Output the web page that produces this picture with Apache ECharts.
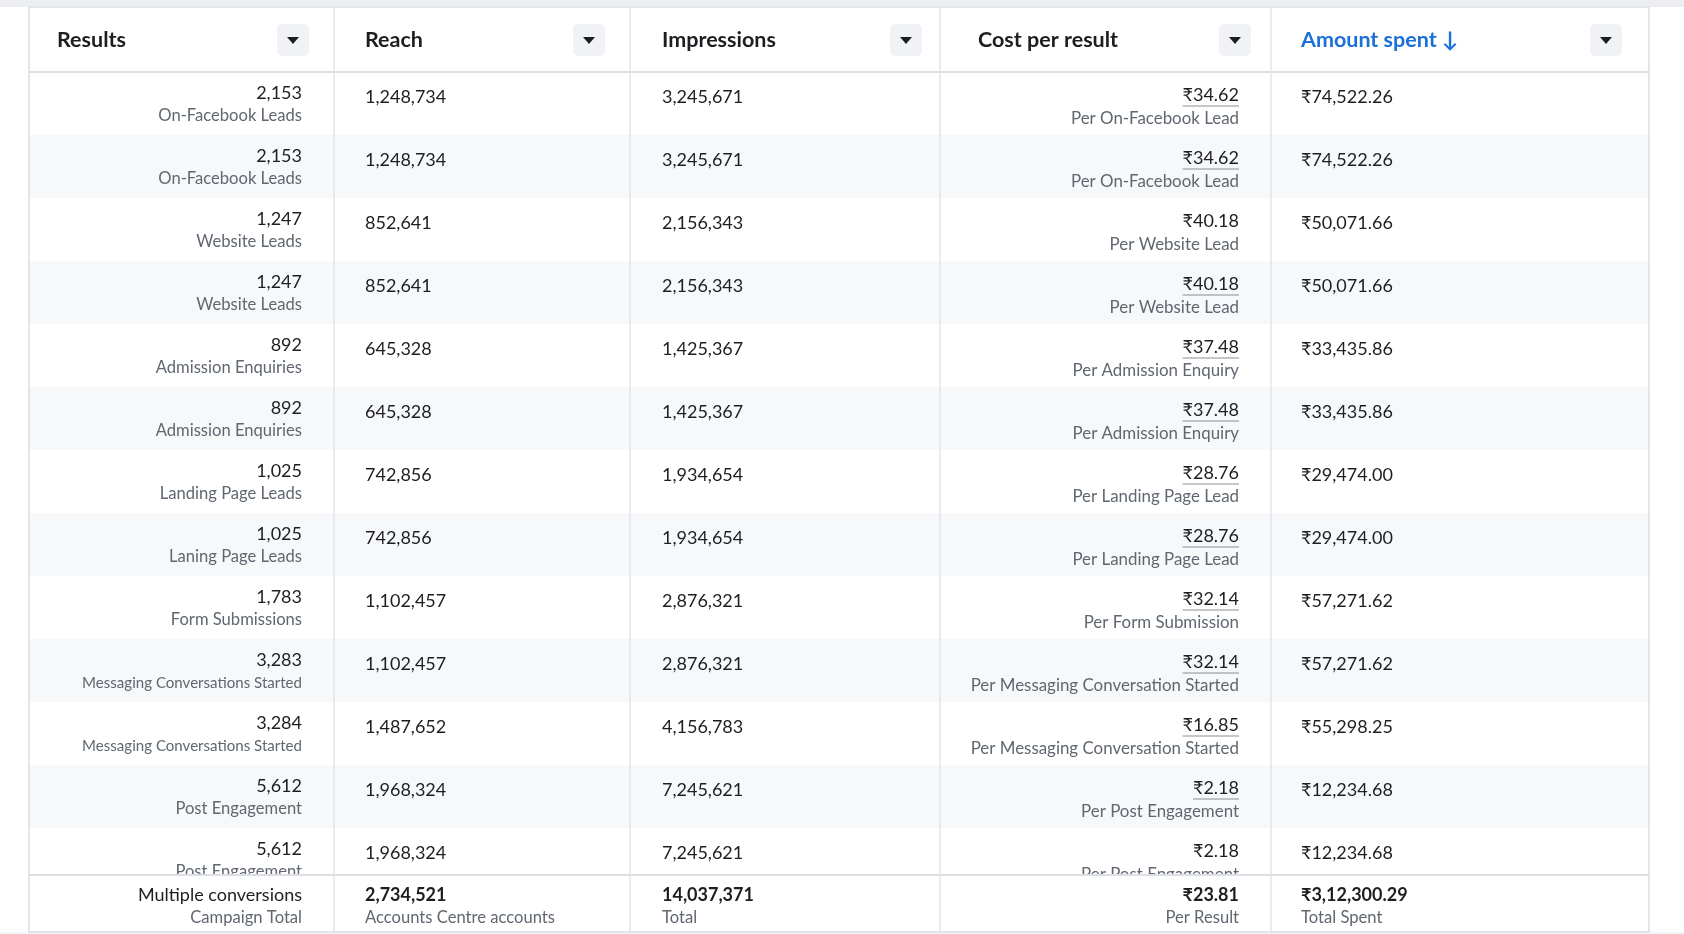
<!DOCTYPE html>
<html>
<head>
<meta charset="utf-8">
<script src="https://cdn.jsdelivr.net/npm/echarts@6/dist/echarts.min.js"></script>
<style>
  html, body { margin: 0; padding: 0; background: #fff; }
  #container { width: 1684px; height: 934px; }
</style>
</head>
<body>
<div id="container"></div>
<script>
'use strict';

// table data
var headers = ['Results', 'Reach', 'Impressions', 'Cost per result', 'Amount spent \u2193'];
var resultCounts = [2153, 2153, 1247, 1247, 892, 892, 1025, 1025, 1783, 3283, 3284, 5612, 5612];
var resultTypes = ['On-Facebook Leads', 'On-Facebook Leads', 'Website Leads', 'Website Leads',
    'Admission Enquiries', 'Admission Enquiries', 'Landing Page Leads', 'Laning Page Leads',
    'Form Submissions', 'Messaging Conversations Started', 'Messaging Conversations Started',
    'Post Engagement', 'Post Engagement'];
var reach = [1248734, 1248734, 852641, 852641, 645328, 645328, 742856, 742856,
    1102457, 1102457, 1487652, 1968324, 1968324];
var impressions = [3245671, 3245671, 2156343, 2156343, 1425367, 1425367, 1934654, 1934654,
    2876321, 2876321, 4156783, 7245621, 7245621];
var costPerResult = [34.62, 34.62, 40.18, 40.18, 37.48, 37.48, 28.76, 28.76,
    32.14, 32.14, 16.85, 2.18, 2.18];
var costLabels = ['Per On-Facebook Lead', 'Per On-Facebook Lead', 'Per Website Lead', 'Per Website Lead',
    'Per Admission Enquiry', 'Per Admission Enquiry', 'Per Landing Page Lead', 'Per Landing Page Lead',
    'Per Form Submission', 'Per Messaging Conversation Started', 'Per Messaging Conversation Started',
    'Per Post Engagement', 'Per Post Engagement'];
var costLinked = [true, true, false, true, true, true, true, true, true, true, true, true, false];
var amountSpent = [74522.26, 74522.26, 50071.66, 50071.66, 33435.86, 33435.86, 29474.00, 29474.00,
    57271.62, 57271.62, 55298.25, 12234.68, 12234.68];

// totals row
var totalResults = ['Multiple conversions', 'Campaign Total'];
var totalReach = [2734521, 'Accounts Centre accounts'];
var totalImpressions = [14037371, 'Total'];
var totalCost = [23.81, 'Per Result'];
var totalSpent = [312300.29, 'Total Spent'];

// layout (px)
var W = 1684, H = 934;
var tLeft = 29, tRight = 1649, tTop = 7, headBottom = 72, rowH = 63, footTop = 875, tBottom = 932;
var colLines = [334, 630, 940, 1271];
var headX = [57, 365, 662, 978, 1301];
var dropX = [293, 589, 906, 1235, 1606];
var FONT = 'Lato, "Noto Sans", "DejaVu Sans", sans-serif';
var DARK = '#1c1e21', GREY = '#606770', LINE = '#e3e5e8';

function grp(n) {
    return String(n).replace(/\B(?=(\d{3})+(?!\d))/g, ',');
}
function inr(v) {
    var parts = v.toFixed(2).split('.');
    var s = parts[0];
    if (s.length > 3) {
        var last = s.slice(-3), rest = s.slice(0, -3);
        s = rest.replace(/\B(?=(\d{2})+(?!\d))/g, ',') + ',' + last;
    }
    return '\u20B9' + s + '.' + parts[1];
}
var measureCtx = document.createElement('canvas').getContext('2d');
function textWidth(str, size, weight) {
    measureCtx.font = (weight || 'normal') + ' ' + size + 'px ' + FONT;
    return measureCtx.measureText(str).width;
}
// shrink long result labels so they stay inside the column
function fitSize(str, size, maxW) {
    var w = textWidth(str, size);
    return w > maxW ? size * maxW / w : size;
}

function txt(x, y, str, opt) {
    opt = opt || {};
    return {
        type: 'text', x: x, y: y, z: opt.z || 0,
        style: {
            text: str, fill: opt.color || DARK, align: opt.align || 'left', verticalAlign: 'middle',
            fontSize: opt.size || 18, fontWeight: opt.weight || 'normal', fontFamily: FONT
        }
    };
}

var rows = resultCounts.map(function (v, i) { return i; });

var dom = document.getElementById('container');
var myChart = echarts.init(dom, null, { renderer: 'canvas' });

function renderRow(params, api) {
    var i = api.value(0);
    var cy = api.coord([0, i])[1];
    var h = api.size([0, 1])[1];
    var top = cy - h / 2;
    var xs = function (v) { return api.coord([v, i])[0]; };
    var numY = top + 21, labY = top + 44, oneY = top + 25;
    var costStr = '\u20B9' + costPerResult[i].toFixed(2);
    var children = [
        { type: 'rect', shape: { x: xs(tLeft), y: top, width: xs(tRight) - xs(tLeft), height: h },
          style: { fill: i % 2 ? '#f7f8fa' : '#ffffff' } },
        txt(xs(302), numY, grp(resultCounts[i]), { align: 'right' }),
        txt(xs(302), labY, resultTypes[i], { align: 'right', color: GREY,
            size: fitSize(resultTypes[i], 16.6, 220) }),
        txt(xs(365), oneY, grp(reach[i])),
        txt(xs(662), oneY, grp(impressions[i])),
        txt(xs(1239), numY + 2, costStr, { align: 'right' }),
        txt(xs(1239), labY + 3, costLabels[i], { align: 'right', color: GREY, size: 16.9 }),
        txt(xs(1301), oneY, inr(amountSpent[i]))
    ];
    if (costLinked[i]) {
        var w = textWidth(costStr, 18);
        children.push({
            type: 'line', shape: { x1: xs(1239) - w, y1: numY + 13, x2: xs(1239), y2: numY + 13 },
            style: { stroke: '#8a8d91', lineWidth: 1.2 }
        });
    }
    return { type: 'group', children: children };
}

var graphics = [
    { type: 'rect', shape: { x: 0, y: 0, width: W, height: tTop }, style: { fill: '#eceef1' }, z: 100 },
    // header
    { type: 'rect', shape: { x: tLeft, y: tTop, width: tRight - tLeft, height: headBottom - tTop },
      style: { fill: '#ffffff' }, z: 100 },
    // footer
    { type: 'rect', shape: { x: tLeft, y: footTop, width: tRight - tLeft, height: tBottom - footTop },
      style: { fill: '#ffffff' }, z: 100 },
    { type: 'rect', shape: { x: 0, y: tBottom, width: W, height: H - tBottom },
      style: { fill: '#f3f4f6' }, z: 100 },
    { type: 'line', shape: { x1: tLeft, y1: headBottom, x2: tRight, y2: headBottom },
      style: { stroke: '#dcdfe3', lineWidth: 2 }, z: 101 },
    { type: 'line', shape: { x1: tLeft, y1: footTop, x2: tRight, y2: footTop },
      style: { stroke: '#dcdfe3', lineWidth: 2 }, z: 101 },
    { type: 'rect', shape: { x: tLeft, y: tTop, width: tRight - tLeft, height: tBottom - tTop },
      style: { fill: 'none', stroke: '#dcdfe3', lineWidth: 1.5 }, z: 102 }
];
colLines.forEach(function (x) {
    graphics.push({ type: 'line', shape: { x1: x, y1: tTop, x2: x, y2: tBottom },
        style: { stroke: LINE, lineWidth: 1.5 }, z: 101 });
});
headers.forEach(function (h, k) {
    graphics.push(txt(headX[k], 40, h, { weight: 'bold', size: 21.5, z: 103,
        color: k === 4 ? '#1b6fd8' : DARK }));
    graphics.push({ type: 'rect', shape: { x: dropX[k] - 16, y: 24, width: 32, height: 32, r: 5 },
        style: { fill: '#f0f2f5' }, z: 103 });
    graphics.push({ type: 'polygon',
        shape: { points: [[dropX[k] - 6, 37], [dropX[k] + 6, 37], [dropX[k], 44]] },
        style: { fill: DARK }, z: 104 });
});
var fy1 = 895, fy2 = 918;
graphics.push(
    txt(302, fy1, totalResults[0], { align: 'right', z: 103 }),
    txt(302, fy2, totalResults[1], { align: 'right', color: GREY, size: 16.6, z: 103 }),
    txt(365, fy1, grp(totalReach[0]), { weight: 'bold', z: 103 }),
    txt(365, fy2, totalReach[1], { color: GREY, size: 16.6, z: 103 }),
    txt(662, fy1, grp(totalImpressions[0]), { weight: 'bold', z: 103 }),
    txt(662, fy2, totalImpressions[1], { color: GREY, size: 16.6, z: 103 }),
    txt(1239, fy1, '\u20B9' + totalCost[0].toFixed(2), { align: 'right', weight: 'bold', z: 103 }),
    txt(1239, fy2, totalCost[1], { align: 'right', color: GREY, size: 16.6, z: 103 }),
    txt(1301, fy1, inr(totalSpent[0]), { weight: 'bold', z: 103 }),
    txt(1301, fy2, totalSpent[1], { color: GREY, size: 16.6, z: 103 })
);

var option = {
    animation: false,
    backgroundColor: '#ffffff',
    grid: { left: 0, right: 0, top: headBottom, height: rows.length * rowH },
    xAxis: { type: 'value', min: 0, max: W, show: false },
    yAxis: { type: 'category', inverse: true, data: rows, show: false },
    series: [{
        type: 'custom',
        renderItem: renderRow,
        clip: false,
        data: rows.map(function (i) { return [i]; }),
        encode: { y: 0 }
    }],
    graphic: { elements: graphics }
};
myChart.setOption(option);
</script>
</body>
</html>
